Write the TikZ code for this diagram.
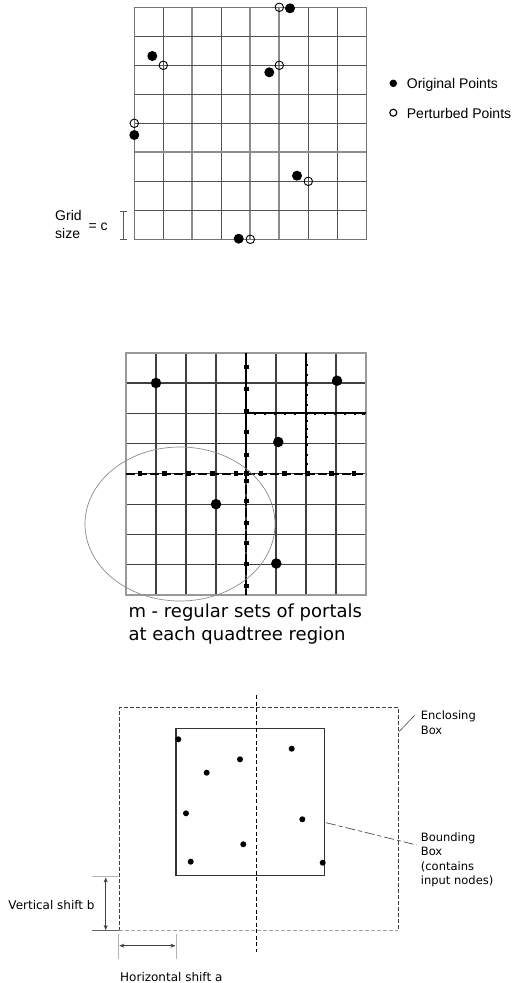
\documentclass[tikz,border=0pt]{standalone}
\usepackage{fontspec}
\setmainfont{Liberation Sans}
\newfontfamily\dvs{DejaVu Sans}
\usetikzlibrary{arrows.meta}
\begin{document}
\begin{tikzpicture}[x=1pt,y=-1pt,
  gridT/.style={draw=black!68, line width=1.2pt},
  gridTl/.style={draw=black!45, line width=1.8pt},
  gridM/.style={draw=black!75, line width=1.1pt},
  borderM/.style={draw=black!40, line width=1.8pt},
  thickM/.style={draw=black, line width=2pt},
  orig/.style={circle, fill=black, inner sep=0pt, minimum size=10pt},
  pert/.style={circle, draw=black, line width=0.9pt, inner sep=0pt, minimum size=8.5pt},
  legorig/.style={circle, fill=black, inner sep=0pt, minimum size=7.5pt},
  legpert/.style={circle, draw=black, line width=1.1pt, inner sep=0pt, minimum size=7pt},
  dotM/.style={circle, fill=black, inner sep=0pt, minimum size=10.5pt},
  portal/.style={rectangle, fill=black, inner sep=0pt, minimum size=4.5pt},
  subportal/.style={rectangle, fill=black, inner sep=0pt, minimum size=2.6pt},
  dotB/.style={circle, fill=black, inner sep=0pt, minimum size=6pt},
  arial/.style={anchor=base west, inner sep=0pt, font=\fontsize{14}{16}\selectfont},
  capt/.style={anchor=base west, inner sep=0pt, font=\dvs\fontsize{18}{22}\selectfont},
  lblB/.style={anchor=base west, inner sep=0pt, font=\dvs\fontsize{11.5}{14}\selectfont},
  lblC/.style={anchor=base west, inner sep=0pt, font=\dvs\fontsize{12}{14}\selectfont},
  dimarrow/.style={draw=black!75, line width=0.6pt, {Stealth[length=5pt,width=4pt]}-{Stealth[length=5pt,width=4pt]}},
  tick/.style={draw=black!30, line width=1pt}
]
\useasboundingbox (0,0) rectangle (512,983);

% ---------------- top grid ----------------
\foreach \i in {1,3,6,7} {
  \draw[gridT] ({134.3+29*\i},7.3) -- ({134.3+29*\i},239.3);
}
\foreach \i in {2,4,5} {
  \draw[gridTl] ({134.3+29*\i},7.3) -- ({134.3+29*\i},239.3);
}
\foreach \i in {1,2,3,4,6,7} {
  \draw[gridT] (134.3,{7.3+29*\i}) -- (366.3,{7.3+29*\i});
}
\draw[gridTl] (134.3,152.3) -- (366.3,152.3);
\draw[draw=black!55, line width=1.6pt] (134.3,7.3) rectangle (366.3,239.3);
\node[orig] (o1) at (290,8.3) {};
\node[pert] (p1) at (279.3,7.3) {};
\node[orig] (o2) at (152.3,56) {};
\node[pert] (p2) at (163.3,65.3) {};
\node[orig] (o3) at (269.3,72.3) {};
\node[pert] (p3) at (279.3,65.3) {};
\node[pert] (p4) at (134.3,123.3) {};
\node[orig] (o4) at (134.3,135) {};
\node[orig] (o5) at (297,175.7) {};
\node[pert] (p5) at (308.3,181.3) {};
\node[orig] (o6) at (238.7,238.7) {};
\node[pert] (p6) at (250.3,239.3) {};

% legend
\node[legorig] (lo) at (393.3,83.3) {};
\node[arial] (lot) at (406.7,88) {Original Points};
\node[legpert] (lp) at (393.3,112.7) {};
\node[arial] (lpt) at (406.7,118) {Perturbed Points};

% grid size
\node[arial] (gs1) at (55,220.7) {Grid};
\node[arial] (gs2) at (55,238.5) {size};
\node[arial] (gs3) at (88.3,230) {= c};
\coordinate (brT) at (123.5,211);
\coordinate (brB) at (123.5,239);
\draw[black!65, line width=0.8pt] (brT) -- (brB)
  ([xshift=-3.5pt]brT) -- ([xshift=3.5pt]brT)
  ([xshift=-3.5pt]brB) -- ([xshift=3.5pt]brB);

% ---------------- middle grid ----------------
\foreach \i in {1,...,7} {
  \draw[gridM] ({126+30*\i},352.7) -- ({126+30*\i},595.1);
  \draw[gridM] (126,{352.7+30.3*\i}) -- (366,{352.7+30.3*\i});
}
\draw[borderM] (126,352.7) rectangle (366,595.1);
% quadtree split lines
\draw[thickM] (246,352.7) -- (246,473.9);
\draw[thickM, dash pattern=on 9pt off 2.5pt] (246,473.9) -- (246,595.1);
\draw[black, line width=1.3pt, dash pattern=on 9pt off 3pt] (126,473.9) -- (366,473.9);
\draw[thickM] (306,352.7) -- (306,473.9);
\draw[thickM] (246,413.3) -- (366,413.3);
% portals
\foreach \y [count=\k] in {367,389,411,432,455,481,501,523,543,564,586}
  \node[portal] (pv\k) at (246.3,\y) {};
\foreach \x [count=\k] in {140,164.5,188.3,212.5,236,246.3,260.8,284.3,307.3,331.7,354}
  \node[portal] (ph\k) at (\x,473.6) {};
\foreach \y [count=\k] in {365,375,385,395,405,413.3,421,429,437,445,455,464}
  \node[subportal] (sv\k) at (306.3,\y) {};
\foreach \x [count=\k] in {255,265,275,285,295,315,325,335,345,355,363.5}
  \node[subportal] (sh\k) at (\x,413.3) {};
% points
\node[dotM] (m1) at (156,383) {};
\node[dotM] (m2) at (337,380.7) {};
\node[dotM] (m3) at (278.3,442) {};
\node[dotM] (m4) at (216,504.2) {};
\node[dotM] (m5) at (276.3,563.5) {};
% circle
\draw[black!45, line width=0.7pt] (180,524) ellipse [x radius=95, y radius=77];
% caption
\node[capt] (c1) at (128.3,617) {m - regular sets of portals};
\node[capt] (c2) at (128.3,640) {at each quadtree region};

% ---------------- bottom ----------------
\draw[black!75, line width=1pt, dash pattern=on 4pt off 2pt] (119.3,930.7) -- (119.3,707.3) -- (398.3,707.3) -- (398.3,930.7);
\draw[black!35, line width=1pt, dash pattern=on 4pt off 2pt] (119.3,930.7) -- (398.3,930.7);
\draw[black!80, line width=1.1pt] (176,728.3) rectangle (324.3,875.7);
\draw[black, line width=1pt, dash pattern=on 4pt off 2.5pt] (256.7,695) -- (256.7,951.7);

\node[dotB] (b1) at (178.3,739.3) {};
\node[dotB] (b2) at (291.7,748.7) {};
\node[dotB] (b3) at (240,759.3) {};
\node[dotB] (b4) at (206.7,772.7) {};
\node[dotB] (b5) at (186,813.3) {};
\node[dotB] (b6) at (302.3,819.3) {};
\node[dotB] (b7) at (243.3,844.3) {};
\node[dotB] (b8) at (190.7,861.7) {};
\node[dotB] (b9) at (322.7,862.7) {};

% labels
\node[lblB] (e1) at (420.7,719) {Enclosing};
\node[lblB] (e2) at (420.7,734) {Box};
\coordinate (eA) at (399,731.7);
\coordinate (eB) at (415,715);
\draw[black!70, line width=0.6pt] (eA) -- (eB);

\node[lblB] (bb1) at (420.7,841) {Bounding};
\node[lblB] (bb2) at (420.7,855.5) {Box};
\node[lblB] (bb3) at (420.7,870) {(contains};
\node[lblB] (bb4) at (420.7,884.5) {input nodes)};
\coordinate (bA) at (326,822.7);
\coordinate (bB) at (416.7,845);
\draw[black!70, line width=0.7pt, dash pattern=on 10pt off 3pt on 4pt off 3pt] (bA) -- (bB);

% vertical shift
\coordinate (vT) at (105.7,877.5);
\coordinate (vB) at (105.7,930);
\draw[tick] (91.7,876.7) -- (118.3,876.7);
\draw[black!60, line width=1.5pt] (91.7,930.7) -- (119.3,930.7);
\draw[dimarrow] (vT) -- (vB);
\node[lblC] (vl) at (8.3,909.5) {Vertical shift b};

% horizontal shift
\draw[tick] (118.3,934) -- (118.3,959.3);
\draw[tick] (176,934) -- (176,959.3);
\coordinate (hL) at (119.3,945.7);
\coordinate (hR) at (175.5,945.7);
\draw[dimarrow] (hL) -- (hR);
\node[lblC] (hl) at (120,981) {Horizontal shift a};
\end{tikzpicture}
\end{document}
